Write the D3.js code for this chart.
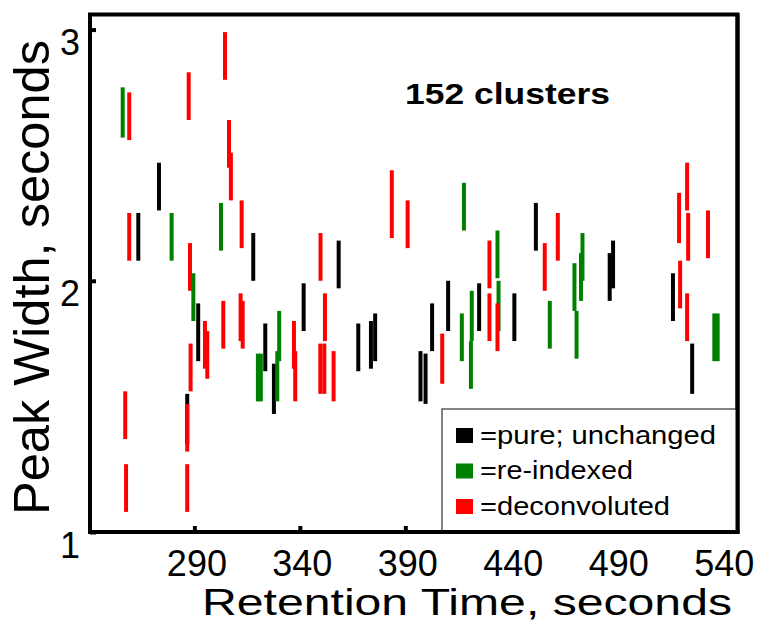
<!DOCTYPE html>
<html>
<head>
<meta charset="utf-8">
<script src="https://cdn.jsdelivr.net/npm/d3@7"></script>
<style>
  html, body { margin: 0; padding: 0; background: #fff; }
  svg { display: block; }
  text { font-family: "Liberation Sans", Arial, sans-serif; fill: #000; }
</style>
</head>
<body>
<svg id="chart" width="757" height="631"></svg>
<script>
// Each cluster: [retention time (s), lower peak width (s), upper peak width (s)]
const pureUnchanged = [
  [273.2, 2.28, 2.47], [263.4, 2.08, 2.27], [317.9, 2.00, 2.19], [291.8, 1.68, 1.91],
  [286.6, 1.35, 1.55], [323.6, 1.64, 1.83], [327.7, 1.47, 1.67], [341.8, 1.80, 1.99],
  [358.4, 1.97, 2.16], [367.7, 1.64, 1.83], [373.7, 1.65, 1.84], [375.7, 1.68, 1.87],
  [397.2, 1.52, 1.72], [399.6, 1.51, 1.71], [402.7, 1.72, 1.91], [410.3, 1.80, 2.00],
  [425.0, 1.80, 1.99], [441.7, 1.76, 1.95], [451.9, 2.12, 2.31], [486.9, 1.92, 2.11],
  [488.5, 1.97, 2.16], [516.9, 1.84, 2.03], [526.0, 1.55, 1.75]
];
const reIndexed = [
  [256.0, 2.57, 2.77], [279.2, 2.08, 2.27], [302.6, 2.12, 2.31], [289.5, 1.84, 2.03],
  [320.1, 1.52, 1.71], [321.5, 1.52, 1.71], [330.2, 1.68, 1.88], [329.3, 1.52, 1.72],
  [417.8, 2.20, 2.39], [416.8, 1.68, 1.87], [421.5, 1.76, 1.96], [421.1, 1.57, 1.76],
  [433.7, 2.01, 2.20], [434.2, 1.80, 2.00], [458.5, 1.73, 1.92], [470.2, 1.88, 2.07],
  [471.2, 1.69, 1.88], [473.3, 1.92, 2.11], [474.0, 2.00, 2.19], [536.5, 1.68, 1.87],
  [538.1, 1.68, 1.87]
];
const deconvoluted = [
  [259.1, 2.56, 2.75], [287.3, 2.64, 2.83], [304.5, 2.80, 2.99], [306.4, 2.45, 2.64],
  [307.3, 2.32, 2.51], [312.4, 2.13, 2.32], [259.1, 2.08, 2.27], [287.9, 1.96, 2.15],
  [295.0, 1.65, 1.84], [296.1, 1.61, 1.80], [303.7, 1.73, 1.92], [311.9, 1.76, 1.95],
  [312.9, 1.73, 1.92], [288.2, 1.56, 1.75], [286.6, 1.32, 1.51], [286.6, 1.08, 1.27],
  [257.2, 1.37, 1.56], [257.6, 1.08, 1.27], [337.2, 1.65, 1.84], [337.8, 1.52, 1.72],
  [349.8, 2.00, 2.19], [351.9, 1.76, 1.95], [349.7, 1.55, 1.75], [351.6, 1.55, 1.75],
  [356.0, 1.52, 1.72], [383.6, 2.17, 2.44], [391.1, 2.13, 2.32], [407.5, 1.59, 1.79],
  [429.9, 1.97, 2.16], [429.9, 1.76, 1.95], [433.7, 1.72, 1.91], [456.1, 1.96, 2.15],
  [462.3, 2.08, 2.27], [519.8, 2.15, 2.35], [523.6, 2.28, 2.47], [524.1, 2.08, 2.27],
  [533.5, 2.09, 2.28], [520.3, 1.89, 2.08], [523.6, 1.76, 1.95]
];

const xTicks = [290, 340, 390, 440, 490, 540];
const yTicks = [1, 2, 3];
const seriesNames = ["=pure; unchanged", "=re-indexed", "=deconvoluted"];
const seriesColors = ["#000000", "#008000", "#ff0000"];
const annotation = "152 clusters";

const svg = d3.select("#chart");

const plot = { left: 90, right: 737.5, top: 14.5, bottom: 532 };

const x = d3.scaleLinear().domain([240.5, 547.5]).range([plot.left, plot.right]);
const y = d3.scaleLinear().domain([1, 3.06]).range([plot.bottom, plot.top]);

// Cluster segments, drawn black, then green, then red on top
const series = [pureUnchanged, reIndexed, deconvoluted];
series.forEach((rows, i) => {
  svg.append("g")
    .selectAll("line")
    .data(rows)
    .join("line")
    .attr("x1", d => x(d[0]))
    .attr("x2", d => x(d[0]))
    .attr("y1", d => y(d[1]))
    .attr("y2", d => y(d[2]))
    .attr("stroke", seriesColors[i])
    .attr("stroke-width", 4);
});

// Bottom axis: inward ticks, labels below
const xAxis = d3.axisBottom(x).tickValues(xTicks).tickFormat(d3.format("d"))
  .tickSizeInner(-6).tickSizeOuter(0).tickPadding(0);
const gx = svg.append("g").attr("transform", `translate(0,${plot.bottom})`).call(xAxis);
gx.select(".domain").remove();
gx.selectAll(".tick line").attr("stroke", "#000").attr("stroke-width", 4);
gx.selectAll(".tick text")
  .attr("y", 44).attr("dy", null).attr("dx", 2)
  .style("font-size", "36px");

// Left axis: inward ticks, labels hanging just below each tick
const yAxis = d3.axisLeft(y).tickValues(yTicks).tickFormat(d3.format("d"))
  .tickSizeInner(-6).tickSizeOuter(0).tickPadding(0);
const gy = svg.append("g").attr("transform", `translate(${plot.left},0)`).call(yAxis);
gy.select(".domain").remove();
gy.selectAll(".tick line").attr("stroke", "#000").attr("stroke-width", 4);
gy.selectAll(".tick text")
  .attr("x", -10).attr("dy", 25)
  .attr("text-anchor", "end")
  .style("font-size", "36px");

// Frame
svg.append("rect")
  .attr("x", plot.left).attr("y", plot.top)
  .attr("width", plot.right - plot.left).attr("height", plot.bottom - plot.top)
  .attr("fill", "none").attr("stroke", "#000").attr("stroke-width", 4);

// Annotation
svg.append("text")
  .attr("x", 405).attr("y", 104)
  .attr("textLength", 205).attr("lengthAdjust", "spacingAndGlyphs")
  .style("font-size", "30px").style("font-weight", "bold")
  .text(annotation);

// Legend
const legend = svg.append("g");
legend.append("rect")
  .attr("x", 442).attr("y", 409)
  .attr("width", plot.right - 442).attr("height", plot.bottom - 409)
  .attr("fill", "#fff").attr("stroke", "#333").attr("stroke-width", 1.2);
const legendWidths = [236, 153, 190];
seriesNames.forEach((name, i) => {
  const cy = 435.5 + i * 35.5;
  legend.append("rect")
    .attr("x", 456).attr("y", cy - 7.5)
    .attr("width", 17).attr("height", 15)
    .attr("fill", seriesColors[i]);
  legend.append("text")
    .attr("x", 480).attr("y", cy + 8)
    .attr("textLength", legendWidths[i]).attr("lengthAdjust", "spacingAndGlyphs")
    .style("font-size", "26px")
    .text(name);
});
// right and bottom frame edges stay on top of the legend border
svg.append("line")
  .attr("x1", plot.right).attr("x2", plot.right)
  .attr("y1", plot.top).attr("y2", plot.bottom)
  .attr("stroke", "#000").attr("stroke-width", 4);
svg.append("line")
  .attr("x1", plot.left).attr("x2", plot.right + 2)
  .attr("y1", plot.bottom).attr("y2", plot.bottom)
  .attr("stroke", "#000").attr("stroke-width", 4);

// Axis titles
svg.append("text")
  .attr("x", 202).attr("y", 615)
  .attr("textLength", 530).attr("lengthAdjust", "spacingAndGlyphs")
  .style("font-size", "37px")
  .text("Retention Time, seconds");

svg.append("text")
  .attr("transform", "translate(49,515) rotate(-90)")
  .attr("x", 0).attr("y", 0)
  .attr("textLength", 475).attr("lengthAdjust", "spacingAndGlyphs")
  .style("font-size", "50px")
  .text("Peak Width, seconds");
</script>
</body>
</html>
